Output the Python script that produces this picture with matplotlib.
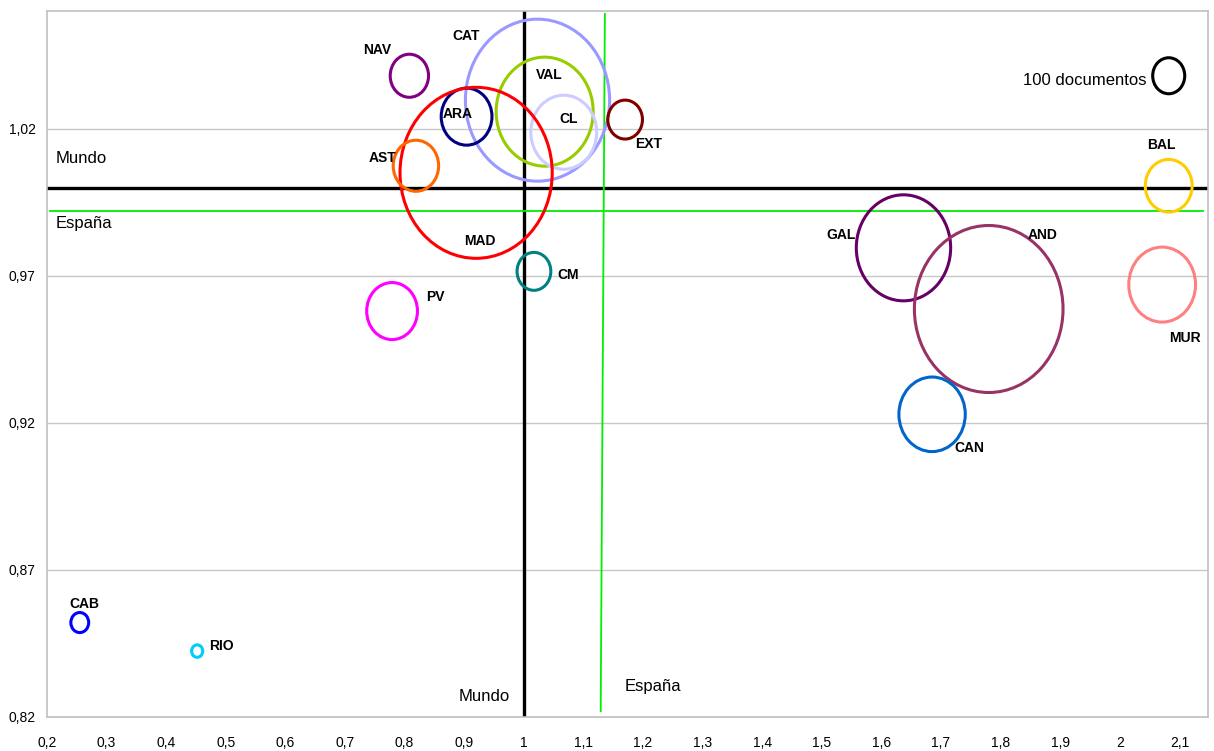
import matplotlib
matplotlib.use('Agg')
import matplotlib.pyplot as plt
from matplotlib.path import Path
from matplotlib.transforms import Affine2D

plt.rcParams['font.family'] = ['Liberation Sans', 'DejaVu Sans']

regions = ['NAV', 'CAT', 'VAL', 'CL', 'ARA', 'MAD', 'AST', 'EXT', 'CM', 'PV',
           'GAL', 'AND', 'MUR', 'CAN', 'BAL', 'CAB', 'RIO']
x_vals = [0.808, 1.023, 1.035, 1.067, 0.904, 0.920, 0.819, 1.170, 1.017, 0.779,
          1.637, 1.780, 2.071, 1.685, 2.082, 0.255, 0.452]
y_vals = [1.038, 1.0297, 1.0258, 1.0188, 1.0241, 1.005, 1.0074, 1.0231, 0.9715, 0.958,
          0.9795, 0.9587, 0.967, 0.9229, 1.0006, 0.8521, 0.8424]
docs = [143, 2025, 917, 423, 251, 2256, 201, 117, 111, 251,
        867, 2152, 434, 429, 214, 31, 12]
colors = ['#800080', '#9999FF', '#99CC00', '#CCCCFF', '#000080', '#FF0000', '#FF6600',
          '#800000', '#008080', '#FF00FF', '#660066', '#993366', '#FF8080', '#0066CC',
          '#FFCC00', '#0000FF', '#00CCFF']
# label offsets in pixels from bubble centre (x right, y up)
label_dx = [-32, -71, 5, 5, -9, 4, -33, 23, 34, 43, -62, 54, 23, 37, -7, 5, 24]
label_dy = [26, 64, 37, 13, 3, -68, 8, -24, -4, 14, 13, 74, -53, -34, 41, 19, 5]

ref_docs = 100
ref_x, ref_y = 2.082, 1.038

mundo = 1.0
espana_y = 0.992
espana_x = (1.129, 1.136)

x_ticks = [round(0.2 + 0.1 * i, 1) for i in range(20)]
y_ticks = [0.82, 0.87, 0.92, 0.97, 1.02]

# bubbles are slightly taller than wide
circ = Path.unit_circle()
ell = Path(Affine2D().scale(0.89, 1.0).transform(circ.vertices), circ.codes)
size_k = 6.72

fig = plt.figure(figsize=(12.14, 7.51), dpi=100)
ax = fig.add_axes([0.0387, 0.0453, 0.9564, 0.940])
ax.set_xlim(0.2, 2.148)
ax.set_ylim(0.82, 1.06)

for yt in y_ticks:
    ax.axhline(yt, color='#C8C8C8', lw=1, zorder=0)

ax.axhline(mundo, color='black', lw=2.4, zorder=1)
ax.axvline(mundo, color='black', lw=2.4, zorder=1)
ax.plot([0.205, 2.14], [espana_y, espana_y], color='#00EE00', lw=1.3, zorder=1)
ax.plot([espana_x[1], espana_x[0]], [1.059, 0.822], color='#00EE00', lw=1.3, zorder=1)

ax.scatter(x_vals, y_vals, s=[d * size_k for d in docs], marker=ell,
           facecolors='none', edgecolors=colors, linewidths=2.2, zorder=3)
ax.scatter([ref_x], [ref_y], s=[ref_docs * size_k], marker=ell,
           facecolors='none', edgecolors='black', linewidths=2.2, zorder=3)

for name, xv, yv, dx, dy in zip(regions, x_vals, y_vals, label_dx, label_dy):
    ax.annotate(name, (xv, yv), xytext=(dx, dy), textcoords='offset pixels',
                ha='center', va='center', fontsize=10, fontweight='bold', zorder=4)

ax.annotate('100 documentos', (ref_x, ref_y), xytext=(-22, -5), textcoords='offset pixels',
            ha='right', va='center', fontsize=12)

ax.text(0.214, 1.0098, 'Mundo', fontsize=12, va='center', ha='left')
ax.text(0.214, 0.9877, 'España', fontsize=12, va='center', ha='left')
ax.text(0.933, 0.8271, 'Mundo', fontsize=12, va='center', ha='center')
ax.text(1.216, 0.8305, 'España', fontsize=12, va='center', ha='center')

ax.set_xticks(x_ticks)
ax.set_xticklabels([('%g' % t).replace('.', ',') for t in x_ticks], fontsize=10)
ax.set_yticks(y_ticks)
ax.set_yticklabels([('%.2f' % t).replace('.', ',') for t in y_ticks], fontsize=10)
ax.tick_params(axis='y', length=0, pad=8)
ax.tick_params(axis='x', length=0, pad=14)
for sp in ax.spines.values():
    sp.set_color('#C0C0C0')
    sp.set_linewidth(1.2)

fig.savefig('out.png', dpi=100)
